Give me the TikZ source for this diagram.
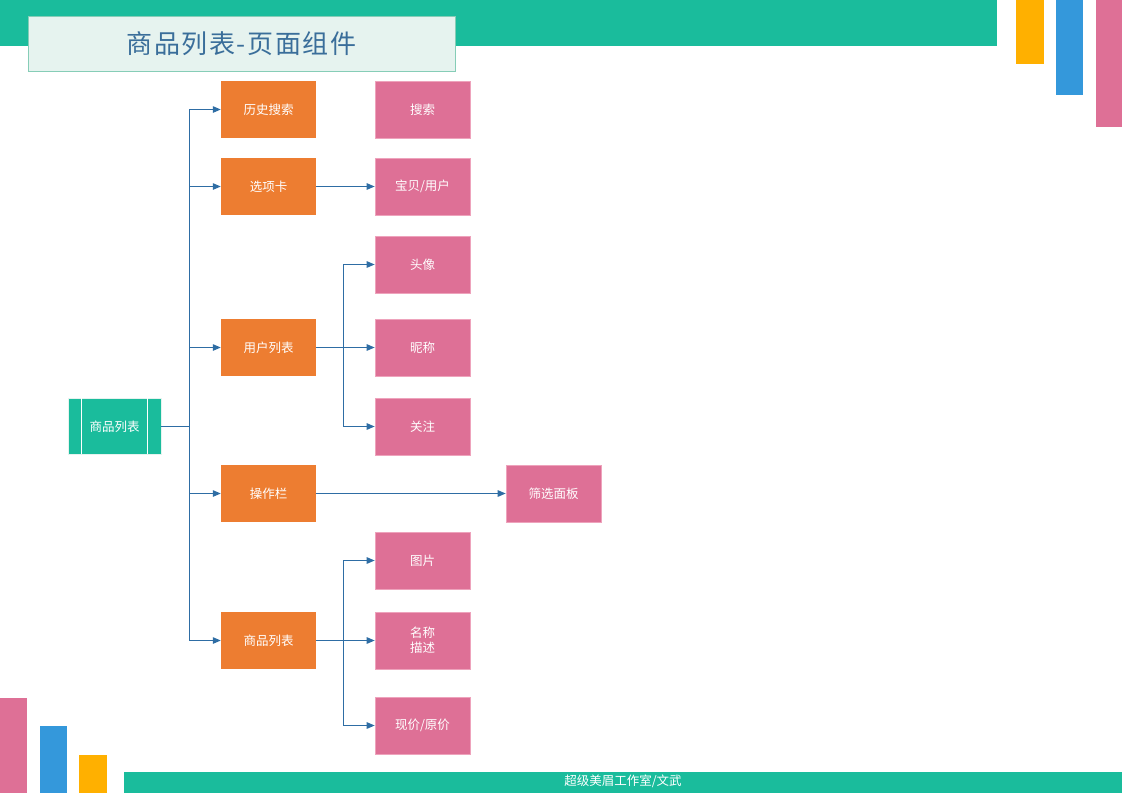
\documentclass[tikz,border=0pt]{standalone}
\usepackage{fontspec}
\newfontfamily\cjk{Noto Sans CJK SC}
\newfontfamily\cjkwide[LetterSpace=6]{Noto Sans CJK SC}
\usetikzlibrary{arrows.meta}
\definecolor{teal}{HTML}{1ABC9C}
\definecolor{orng}{HTML}{ED7D31}
\definecolor{pnk}{HTML}{DE7096}
\definecolor{pnkedge}{HTML}{EEA3BC}
\definecolor{skyb}{HTML}{3498DB}
\definecolor{ambr}{HTML}{FFB000}
\definecolor{wire}{HTML}{2E6DA4}
\definecolor{titlefill}{HTML}{E6F3EF}
\definecolor{titleedge}{HTML}{86CDB7}
\definecolor{titletext}{HTML}{3A6E9A}
\tikzset{
  box/.style={rectangle, minimum width=95pt, minimum height=57pt, inner sep=0pt,
    text=white, font=\cjk\fontsize{12.5}{15}\selectfont, align=center},
  group/.style={box, fill=orng},
  item/.style={box, fill=pnk, draw=pnkedge, line width=0.6pt},
  conn/.style={draw=wire, line width=1.1pt},
  arr/.style={conn, -{Triangle[length=8pt,width=6.5pt]}},
}
\begin{document}
\begin{tikzpicture}[x=1pt,y=-1pt]
\useasboundingbox (0,0) rectangle (1122,793);
% header band and corner bars
\fill[teal] (0,0) rectangle (997,46);
\fill[ambr] (1016,0) rectangle (1044,64);
\fill[skyb] (1056,0) rectangle (1083,95);
\fill[pnk] (1096,0) rectangle (1122,127);
\node[rectangle, fill=titlefill, draw=titleedge, line width=0.8pt,
  minimum width=427pt, minimum height=55pt, inner sep=0pt,
  text=titletext, font=\cjkwide\fontsize{26}{28}\selectfont]
  (title) at (241.5,43.5) {\raisebox{2pt}{商品列表-页面组件}};
% footer band and corner bars
\fill[pnk] (0,698) rectangle (27,793);
\fill[skyb] (40,726) rectangle (67,793);
\fill[ambr] (79,755) rectangle (107,793);
\fill[teal] (124,772) rectangle (1122,793);
\node[text=white, font=\cjk\fontsize{12.5}{14}\selectfont, inner sep=0pt]
  (footer) at (623,781) {超级美眉工作室/文武};
% root
\node[box, fill=teal, draw=titlefill, line width=0.8pt, minimum width=93pt, minimum height=56pt]
  (root) at (114.5,426.5) {商品列表};
\draw[white, line width=1pt] (root.north west) ++(13.5,0) -- ++(0,56);
\draw[white, line width=1pt] (root.north east) ++(-13.5,0) -- ++(0,56);
% first level
\node[group] (hist) at (268.5,109.5) {历史搜索};
\node[group] (tabs) at (268.5,186.5) {选项卡};
\node[group] (users) at (268.5,347.5) {用户列表};
\node[group] (ops) at (268.5,493.5) {操作栏};
\node[group] (goods) at (268.5,640.5) {商品列表};
% second level
\node[item] (search) at (422.5,109.5) {搜索};
\node[item] (kind) at (422.5,186.5) {宝贝/用户};
\node[item] (avatar) at (422.5,264.5) {头像};
\node[item] (nick) at (422.5,347.5) {昵称};
\node[item] (follow) at (422.5,426.5) {关注};
\node[item] (filter) at (553.5,493.5) {筛选面板};
\node[item] (pic) at (422.5,560.5) {图片};
\node[item] (name) at (422.5,640.5) {名称\\描述};
\node[item] (price) at (422.5,725.5) {现价/原价};
% connectors
\draw[conn] (root.east) -- ++(28,0) coordinate (trunk);
\foreach \n in {hist,tabs,users,ops,goods}
  \draw[arr] (trunk) |- (\n.west);
\draw[arr] (tabs.east) -- (kind.west);
\draw[arr] (ops.east) -- (filter.west);
\draw[conn] (users.east) -- ++(27,0) coordinate (ubr);
\foreach \n in {avatar,nick,follow}
  \draw[arr] (ubr) |- (\n.west);
\draw[conn] (goods.east) -- ++(27,0) coordinate (gbr);
\foreach \n in {pic,name,price}
  \draw[arr] (gbr) |- (\n.west);
\end{tikzpicture}
\end{document}
